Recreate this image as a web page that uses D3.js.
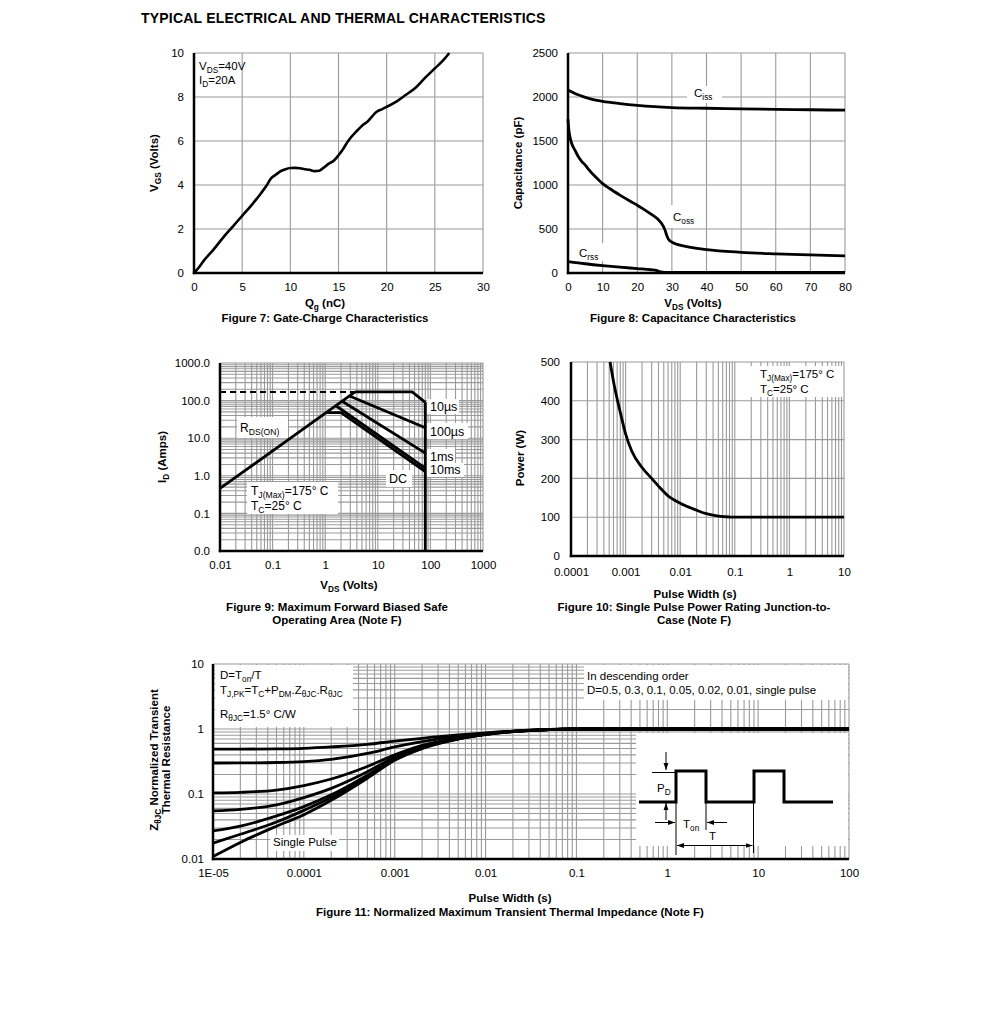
<!DOCTYPE html>
<html><head><meta charset="utf-8">
<script src="https://cdn.jsdelivr.net/npm/d3@7"></script>
<style>
body{margin:0;background:#fff;}
svg{display:block;font-family:"Liberation Sans",Arial,Helvetica,sans-serif;}
</style></head><body>
<svg id="c" width="991" height="1010"></svg>
<script>
// ---------------- DATA ----------------
// Figure 7: Gate charge
const fig7Qg  = [0,0.5,1,2,3,4,5,6,7,7.5,8,8.5,9,9.5,10,10.5,11,11.5,12,12.5,13,13.5,14,14.5,15,15.5,16,17,17.5,18,19,19.5,20,21,22,23,24,25,26,26.5];
const fig7Vgs = [0,0.25,0.55,1.05,1.6,2.1,2.6,3.1,3.65,3.95,4.3,4.47,4.63,4.72,4.77,4.78,4.76,4.72,4.69,4.63,4.65,4.8,4.97,5.1,5.35,5.65,6.0,6.5,6.72,6.88,7.34,7.44,7.55,7.79,8.1,8.42,8.88,9.3,9.73,10.0];
const fig7XTicks = [0,5,10,15,20,25,30];
const fig7YTicks = [0,2,4,6,8,10];

// Figure 8: Capacitance
const cissV = [0,1,2,4,6,8,10,15,20,25,30,40,50,60,70,80];
const cissC = [2080,2060,2040,2010,1985,1965,1950,1925,1905,1890,1880,1872,1866,1860,1855,1850];
const cossV = [0,0.2,0.5,1,2,3,4,5,6,8,10,12,15,18,20,22,24,26,27,28,28.5,29,30,32,35,40,50,60,70,80];
const cossC = [1750,1640,1560,1480,1395,1320,1265,1225,1175,1090,1015,960,885,815,770,720,670,610,565,490,430,385,350,320,295,265,235,218,205,195];
const crssV = [0,5,10,15,20,24,25.5,26.5,28,40,60,80];
const crssC = [130,105,84,66,50,37,30,15,8,7,6,6];
const fig8XTicks = [0,10,20,30,40,50,60,70,80];
const fig8YTicks = [0,500,1000,1500,2000,2500];

// Figure 9: SOA
const rdsV   = [0.01,3.7];      const rdsI   = [0.46,170];
const limV   = [0.01,3.7];      const limI   = [170,170];
const us10V  = [3.7,45,80];     const us10I  = [170,170,90];
const us100V = [2.9,80];        const us100I = [133,19];
const ms1V   = [2.1,80];        const ms1I   = [96,4.0];
const ms10V  = [1.6,80];        const ms10I  = [73,1.6];
const dcV    = [1.05,2.0,80];   const dcI    = [48,48,1.3];
const vmaxV  = [80,80];         const vmaxI  = [90,0.01];
const fig9XTicks = [0.01,0.1,1,10,100,1000];
const fig9XLabels = ["0.01","0.1","1","10","100","1000"];
const fig9YTicks = [0.01,0.1,1,10,100,1000];
const fig9YLabels = ["0.0","0.1","1.0","10.0","100.0","1000.0"];

// Figure 10: Single pulse power
const pulseT = [0.00052,0.0006,0.0007,0.0008,0.001,0.0013,0.002,0.003,0.004,0.006,0.01,0.02,0.03,0.05,0.08,0.1,1,10];
const powerW = [500,450,405,370,315,270,228,200,180,155,136,118,109,103,100.5,100,100,100];
const fig10XTicks = [0.0001,0.001,0.01,0.1,1,10];
const fig10XLabels = ["0.0001","0.001","0.01","0.1","1","10"];
const fig10YTicks = [0,100,200,300,400,500];

// Figure 11: Transient thermal impedance
const zT      = [1e-5,2e-5,5e-5,1e-4,2e-4,5e-4,1e-3,2e-3,5e-3,1e-2,2e-2,5e-2,1e-1,1,10,100];
const zD05    = [0.49,0.49,0.495,0.505,0.53,0.58,0.65,0.72,0.81,0.87,0.93,0.985,1,1,1,1];
const zD03    = [0.3,0.301,0.305,0.315,0.34,0.42,0.53,0.64,0.77,0.855,0.925,0.982,1,1,1,1];
const zD01    = [0.104,0.106,0.115,0.135,0.17,0.265,0.4,0.56,0.73,0.84,0.92,0.98,1,1,1,1];
const zD005   = [0.055,0.058,0.068,0.088,0.122,0.22,0.37,0.535,0.72,0.835,0.916,0.98,1,1,1,1];
const zD002   = [0.027,0.032,0.046,0.064,0.097,0.195,0.35,0.52,0.71,0.83,0.914,0.98,1,1,1,1];
const zD001   = [0.0175,0.024,0.037,0.056,0.088,0.185,0.34,0.51,0.705,0.825,0.912,0.98,1,1,1,1];
const zSingle = [0.0109,0.018,0.032,0.048,0.08,0.175,0.33,0.5,0.7,0.82,0.91,0.98,1,1,1,1];
const fig11XTicks = [1e-5,1e-4,1e-3,1e-2,1e-1,1,10,100];
const fig11XLabels = ["1E-05","0.0001","0.001","0.01","0.1","1","10","100"];
const fig11YTicks = [0.01,0.1,1,10];
const fig11YLabels = ["0.01","0.1","1","10"];

// ---------------- HELPERS ----------------
const FONT = '"Liberation Sans",Arial,Helvetica,sans-serif';
const svg = d3.select('#c');
const GRID = '#9a9a9a';
const TS = 11.5;   // normal text size
const BS = 11.5;   // bold label size

function rich(t, str, size){
  const re=/_\{([^}]*)\}/g; let last=0, m, shifted=false;
  const add=(s,sub)=>{
    const ts=t.append('tspan').text(s);
    if(sub){ ts.attr('font-size', size*0.72).attr('dy', size*0.26); shifted=true; }
    else if(shifted){ ts.attr('dy', -size*0.26); shifted=false; }
  };
  while((m=re.exec(str))){ if(m.index>last) add(str.slice(last,m.index),false); add(m[1],true); last=re.lastIndex; }
  if(last<str.length) add(str.slice(last),false);
  return t;
}
function txt(x,y,str,opt={}){
  const size=opt.size||TS;
  const t=svg.append('text').attr('x',x).attr('y',y).attr('font-size',size)
    .attr('font-weight',opt.bold?'bold':'normal').attr('text-anchor',opt.anchor||'start')
    .attr('fill','#000').attr('font-family',FONT);
  if(opt.ls) t.attr('letter-spacing',opt.ls);
  if(opt.rotate) t.attr('transform',`rotate(-90,${x},${y})`);
  rich(t,str,size);
  return t;
}
function box(x,y,w,h){ svg.append('rect').attr('x',x).attr('y',y).attr('width',w).attr('height',h).attr('fill','#fff'); }
function logGrid(lo,hi){
  const out=[]; const e0=Math.round(Math.log10(lo)), e1=Math.round(Math.log10(hi));
  for(let e=e0;e<e1;e++) for(let k=1;k<10;k++) out.push(+(k*Math.pow(10,e)).toPrecision(6));
  out.push(hi); return out;
}
function grid(x,y,xg,yg){
  const g=svg.append('g');
  const [yb,yt]=y.range(), [xl,xr]=x.range();
  g.selectAll(null).data(xg).join('line')
    .attr('x1',d=>x(d)).attr('x2',d=>x(d)).attr('y1',yb).attr('y2',yt)
    .attr('stroke',GRID).attr('stroke-width',1.1);
  g.selectAll(null).data(yg).join('line')
    .attr('x1',xl).attr('x2',xr).attr('y1',d=>y(d)).attr('y2',d=>y(d))
    .attr('stroke',GRID).attr('stroke-width',1.1);
}
function axes(x,y,xv,xl,yv,yl,padX,padY){
  const gx=svg.append('g').attr('transform',`translate(0,${y.range()[0]})`)
    .call(d3.axisBottom(x).tickValues(xv).tickFormat((d,i)=>xl[i]).tickSize(0).tickPadding(padX));
  gx.select('.domain').remove();
  gx.attr('font-family',FONT).attr('font-size',TS);
  gx.selectAll('text').attr('fill','#000');
  const gy=svg.append('g').attr('transform',`translate(${x.range()[0]},0)`)
    .call(d3.axisLeft(y).tickValues(yv).tickFormat((d,i)=>yl[i]).tickSize(0).tickPadding(padY));
  gy.select('.domain').remove();
  gy.attr('font-family',FONT).attr('font-size',TS);
  gy.selectAll('text').attr('fill','#000');
  const [yb,yt]=y.range(), [x0,x1]=x.range();
  svg.append('line').attr('x1',x0).attr('x2',x0).attr('y1',yb+1.2).attr('y2',yt).attr('stroke','#000').attr('stroke-width',2.5);
  svg.append('line').attr('x1',x0-1.2).attr('x2',x1).attr('y1',yb).attr('y2',yb).attr('stroke','#000').attr('stroke-width',2.5);
}
function curve(x,y,xs,ys,opt={}){
  const pts=xs.map((v,i)=>[v,ys[i]]);
  const line=d3.line().x(d=>x(d[0])).y(d=>y(d[1])).curve(opt.curve||d3.curveLinear);
  const p=svg.append('path').attr('d',line(pts)).attr('fill','none').attr('stroke','#000')
    .attr('stroke-width',opt.w||2.8).attr('stroke-linejoin','round').attr('stroke-linecap','butt');
  if(opt.dash) p.attr('stroke-dasharray',opt.dash);
  return p;
}

// Title
txt(141,23,'TYPICAL ELECTRICAL AND THERMAL CHARACTERISTICS',{bold:true,size:14,ls:0.2});

// ---------------- FIGURE 7 ----------------
{
  const x=d3.scaleLinear().domain([0,30]).range([194,483]);
  const y=d3.scaleLinear().domain([0,10]).range([273,53]);
  grid(x,y,fig7XTicks,fig7YTicks);
  box(196,54,45,32);
  curve(x,y,fig7Qg,fig7Vgs,{curve:d3.curveMonotoneX,w:2.6});
  axes(x,y,fig7XTicks,fig7XTicks.map(String),fig7YTicks,fig7YTicks.map(String),10,10);
  txt(199,70,'V_{DS}=40V');
  txt(199,84,'I_{D}=20A');
  txt(158,163,'V_{GS} (Volts)',{bold:true,size:BS,anchor:'middle',rotate:true});
  txt(325,307,'Q_{g} (nC)',{bold:true,size:BS,anchor:'middle'});
  txt(325,322,'Figure 7: Gate-Charge Characteristics',{bold:true,size:BS,anchor:'middle'});
}

// ---------------- FIGURE 8 ----------------
{
  const x=d3.scaleLinear().domain([0,80]).range([568,845]);
  const y=d3.scaleLinear().domain([0,2500]).range([273,53]);
  grid(x,y,fig8XTicks,fig8YTicks);
  box(687,86,35,17);
  box(669,205,31,23);
  box(575,243,29,18);
  curve(x,y,cissV,cissC,{curve:d3.curveMonotoneX});
  curve(x,y,cossV,cossC,{curve:d3.curveMonotoneX});
  curve(x,y,crssV,crssC,{curve:d3.curveMonotoneX});
  axes(x,y,fig8XTicks,fig8XTicks.map(String),fig8YTicks,fig8YTicks.map(String),10,10);
  txt(694,97,'C_{iss}');
  txt(673,221,'C_{oss}');
  txt(579,257,'C_{rss}');
  txt(522,163,'Capacitance (pF)',{bold:true,size:BS,anchor:'middle',rotate:true});
  txt(693,307,'V_{DS} (Volts)',{bold:true,size:BS,anchor:'middle'});
  txt(693,322,'Figure 8: Capacitance Characteristics',{bold:true,size:BS,anchor:'middle'});
}

// ---------------- FIGURE 9 ----------------
{
  const x=d3.scaleLog().domain([0.01,1000]).range([220,483]);
  const y=d3.scaleLog().domain([0.01,1000]).range([551,363]);
  grid(x,y,logGrid(0.01,1000),logGrid(0.01,1000));
  box(237,417,51,21);
  box(427,399,32,15);
  box(427,423,41,16);
  box(427,449,28,14);
  box(427,463,37,14);
  box(386,470,26,17);
  box(247,482,91,32);
  curve(x,y,limV,limI,{dash:'6,4',w:2});
  curve(x,y,rdsV,rdsI);
  curve(x,y,us10V,us10I);
  curve(x,y,us100V,us100I);
  curve(x,y,ms1V,ms1I);
  curve(x,y,ms10V,ms10I);
  curve(x,y,dcV,dcI);
  curve(x,y,vmaxV,vmaxI);
  axes(x,y,fig9XTicks,fig9XLabels,fig9YTicks,fig9YLabels,10,10);
  txt(240,432,'R_{DS(ON)}',{size:12});
  txt(430,411,'10\u00b5s',{size:12.5});
  txt(430,436,'100\u00b5s',{size:12.5});
  txt(430,461,'1ms',{size:12.5});
  txt(430,474,'10ms',{size:12.5});
  txt(389,483,'DC',{size:12.5});
  txt(251,495,'T_{J(Max)}=175\u00b0  C',{size:12});
  txt(251,510,'T_{C}=25\u00b0  C',{size:12});
  txt(166,457,'I_{D} (Amps)',{bold:true,size:BS,anchor:'middle',rotate:true});
  txt(349,589,'V_{DS} (Volts)',{bold:true,size:BS,anchor:'middle'});
  txt(337,611,'Figure 9: Maximum Forward Biased Safe',{bold:true,size:BS,anchor:'middle'});
  txt(337,624,'Operating Area (Note F)',{bold:true,size:BS,anchor:'middle'});
}

// ---------------- FIGURE 10 ----------------
{
  const x=d3.scaleLog().domain([0.0001,10]).range([571,844]);
  const y=d3.scaleLinear().domain([0,500]).range([556,362]);
  grid(x,y,logGrid(0.0001,10),fig10YTicks);
  box(749,366,94,31);
  curve(x,y,pulseT,powerW,{curve:d3.curveMonotoneX});
  axes(x,y,fig10XTicks,fig10XLabels,fig10YTicks,fig10YTicks.map(String),12,11);
  txt(760,378,'T_{J(Max)}=175\u00b0  C');
  txt(760,393,'T_{C}=25\u00b0  C');
  txt(524,458,'Power (W)',{bold:true,size:BS,anchor:'middle',rotate:true});
  txt(695,598,'Pulse Width (s)',{bold:true,size:BS,anchor:'middle'});
  txt(694,611,'Figure 10: Single Pulse Power Rating Junction-to-',{bold:true,size:BS,anchor:'middle'});
  txt(694,624,'Case (Note F)',{bold:true,size:BS,anchor:'middle'});
}

// ---------------- FIGURE 11 ----------------
{
  const x=d3.scaleLog().domain([1e-5,100]).range([213,849]);
  const y=d3.scaleLog().domain([0.01,10]).range([859,664]);
  grid(x,y,logGrid(1e-5,100),logGrid(0.01,10));
  box(215,665,138,62);
  box(584,665,264,35);
  box(636,733,212,113);
  box(270,835,69,16);
  [zD05,zD03,zD01,zD005,zD002,zD001,zSingle].forEach(s=>curve(x,y,zT,s,{curve:d3.curveMonotoneX,w:2.8}));
  axes(x,y,fig11XTicks,fig11XLabels,fig11YTicks,fig11YLabels,10,9);
  txt(220,679,'D=T_{on}/T');
  txt(220,694,'T_{J,PK}=T_{C}+P_{DM}.Z_{\u03b8JC}.R_{\u03b8JC}');
  txt(220,718,'R_{\u03b8JC}=1.5\u00b0  C/W');
  txt(587,680,'In descending order');
  txt(587,694,'D=0.5, 0.3, 0.1, 0.05, 0.02, 0.01, single pulse');
  txt(273,846,'Single Pulse');
  txt(158,760,'Z_{\u03b8JC} Normalized Transient',{bold:true,size:BS,anchor:'middle',rotate:true});
  txt(170,760,'Thermal Resistance',{bold:true,size:BS,anchor:'middle',rotate:true});
  txt(510,902,'Pulse Width (s)',{bold:true,size:BS,anchor:'middle'});
  txt(510,916,'Figure 11: Normalized Maximum Transient Thermal Impedance (Note F)',{bold:true,size:BS,anchor:'middle'});

  // inset pulse diagram (schematic, local coordinates)
  const inset=svg.append('g').attr('transform','translate(636,733)');
  const defs=svg.append('defs');
  defs.append('marker').attr('id','ah').attr('viewBox','0 0 10 10').attr('refX',10).attr('refY',5)
    .attr('markerWidth',7).attr('markerHeight',7).attr('orient','auto-start-reverse').attr('markerUnits','userSpaceOnUse')
    .append('path').attr('d','M0,1.5 L10,5 L0,8.5 z').attr('fill','#000');
  const pulseX=[3,40,40,70,70,118,118,148,148,197];
  const pulseY=[69,69,38,38,69,69,38,38,69,69];
  inset.append('path').attr('d',d3.line()(pulseX.map((v,i)=>[v,pulseY[i]])))
    .attr('fill','none').attr('stroke','#000').attr('stroke-width',3).attr('stroke-linejoin','miter');
  const thin=[[16,39.5,40,39.5],[40,69,40,122],[70,69,70,97],[117.5,69,117.5,120]];
  thin.forEach(l=>inset.append('line').attr('x1',l[0]).attr('y1',l[1]).attr('x2',l[2]).attr('y2',l[3]).attr('stroke','#000').attr('stroke-width',1));
  const arrows=[[30,19,30,37],[30,87,30,70],[19,89.5,39,89.5],[91,89.5,71,89.5]];
  arrows.forEach(l=>inset.append('line').attr('x1',l[0]).attr('y1',l[1]).attr('x2',l[2]).attr('y2',l[3]).attr('stroke','#000').attr('stroke-width',1).attr('marker-end','url(#ah)'));
  inset.append('line').attr('x1',41).attr('y1',112.5).attr('x2',116.5).attr('y2',112.5).attr('stroke','#000').attr('stroke-width',1)
    .attr('marker-end','url(#ah)').attr('marker-start','url(#ah)');
  txt(657,792,'P_{D}');
  txt(683,828,'T_{on}');
  txt(709,840,'T');
}
</script>
</body></html>
